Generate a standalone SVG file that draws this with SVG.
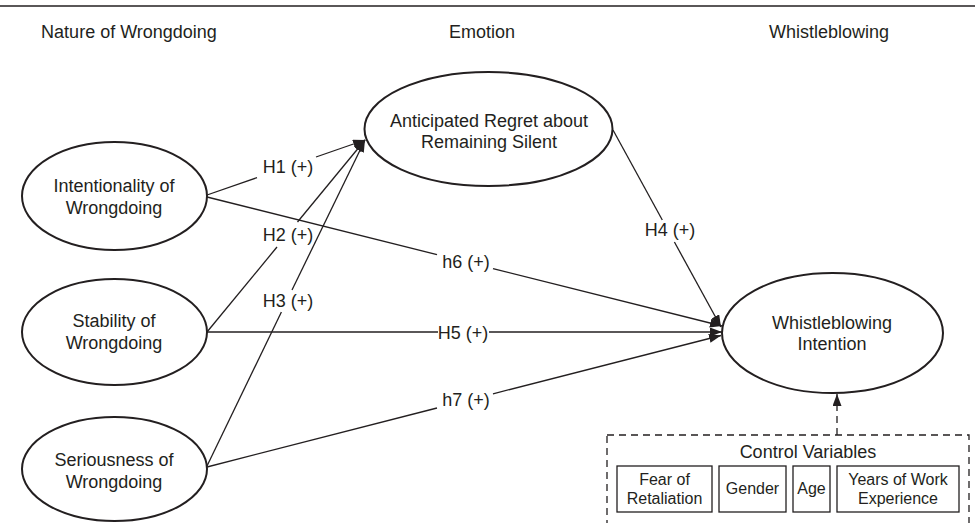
<svg xmlns="http://www.w3.org/2000/svg" width="975" height="523" viewBox="0 0 975 523">
<style>
text{font-family:"Liberation Sans",Arial,sans-serif;fill:#231f20;text-anchor:middle}
.h{font-size:18px}
.n{font-size:18px}
.l{font-size:18px}
.b{font-size:16px}
.e{fill:#fff;stroke:#231f20;stroke-width:2}
.c{stroke:#231f20;stroke-width:1.3;fill:none}
.d{stroke:#231f20;stroke-width:1.3;fill:none;stroke-dasharray:7 5}
.r{fill:#fff;stroke:#231f20;stroke-width:1.3}
</style>
<defs>
<marker id="ah" markerUnits="userSpaceOnUse" markerWidth="13" markerHeight="10" refX="12" refY="4.5" orient="auto">
<path d="M0,0 L12,4.5 L0,9 z" fill="#231f20"/>
</marker>
</defs>
<rect width="975" height="523" fill="#fff"/>
<line x1="0" y1="6" x2="975" y2="6" stroke="#231f20" stroke-width="1.5"/>
<g id="headers">
<text class="h" x="129" y="38">Nature of Wrongdoing</text>
<text class="h" x="482" y="38">Emotion</text>
<text class="h" x="829" y="38">Whistleblowing</text>
</g>
<g id="connectors">
<polyline class="c" points="207,195 257,177.6"/>
<line class="c" x1="316" y1="157" x2="365" y2="140" marker-end="url(#ah)"/>
<line class="c" x1="207" y1="332" x2="277" y2="247"/>
<line class="c" x1="297.5" y1="222" x2="365" y2="140" marker-end="url(#ah)"/>
<line class="c" x1="207" y1="466" x2="281.4" y2="312"/>
<line class="c" x1="292" y1="290" x2="365" y2="140" marker-end="url(#ah)"/>
<line class="c" x1="613" y1="130" x2="662.3" y2="220"/>
<line class="c" x1="674.4" y1="242" x2="721" y2="327" marker-end="url(#ah)"/>
<line class="c" x1="207" y1="332" x2="438" y2="332"/>
<line class="c" x1="489" y1="332" x2="722" y2="332" marker-end="url(#ah)"/>
<line class="c" x1="207" y1="197" x2="437" y2="254.6"/>
<line class="c" x1="493" y1="268.6" x2="722" y2="326" marker-end="url(#ah)"/>
<line class="c" x1="207" y1="467" x2="437" y2="408"/>
<line class="c" x1="493" y1="393.8" x2="721" y2="335.5" marker-end="url(#ah)"/>
<line class="d" x1="837" y1="435" x2="837" y2="394" marker-end="url(#ah)"/>
</g>
<g id="labels">
<text class="l" x="288" y="173">H1 (+)</text>
<text class="l" x="288" y="241">H2 (+)</text>
<text class="l" x="288" y="307">H3 (+)</text>
<text class="l" x="670" y="236">H4 (+)</text>
<text class="l" x="463" y="339">H5 (+)</text>
<text class="l" x="466" y="268">h6 (+)</text>
<text class="l" x="466" y="406">h7 (+)</text>
</g>
<g id="intentionality">
<ellipse class="e" cx="114.5" cy="196" rx="92.5" ry="54"/>
<text class="n" x="114" y="191.5">Intentionality of</text>
<text class="n" x="114" y="213.5">Wrongdoing</text>
</g>
<g id="stability">
<ellipse class="e" cx="114.5" cy="332" rx="92.5" ry="53"/>
<text class="n" x="114" y="327">Stability of</text>
<text class="n" x="114" y="349">Wrongdoing</text>
</g>
<g id="seriousness">
<ellipse class="e" cx="114.5" cy="469" rx="92.5" ry="52"/>
<text class="n" x="114" y="466">Seriousness of</text>
<text class="n" x="114" y="488">Wrongdoing</text>
</g>
<g id="regret">
<ellipse class="e" cx="488.5" cy="129" rx="124" ry="57"/>
<text class="n" x="489" y="126.5">Anticipated Regret about</text>
<text class="n" x="489" y="148">Remaining Silent</text>
</g>
<g id="intention">
<ellipse class="e" cx="832.5" cy="333" rx="110.5" ry="60"/>
<text class="n" x="832" y="328.5">Whistleblowing</text>
<text class="n" x="832" y="350">Intention</text>
</g>
<g id="controls">
<rect class="d" x="607" y="435" width="362" height="110"/>
<text class="n" x="808" y="457.5">Control Variables</text>
<g id="fear">
<rect class="r" x="617" y="466" width="95" height="46"/>
<text class="b" x="664.5" y="484.5">Fear of</text>
<text class="b" x="664.5" y="504">Retaliation</text>
</g>
<g id="gender">
<rect class="r" x="719" y="466" width="67" height="46"/>
<text class="b" x="752.5" y="494">Gender</text>
</g>
<g id="age">
<rect class="r" x="793" y="466" width="37" height="46"/>
<text class="b" x="811.5" y="494">Age</text>
</g>
<g id="years">
<rect class="r" x="837" y="466" width="122" height="46"/>
<text class="b" x="898" y="484.5">Years of Work</text>
<text class="b" x="898" y="504">Experience</text>
</g>
</g>
</svg>
